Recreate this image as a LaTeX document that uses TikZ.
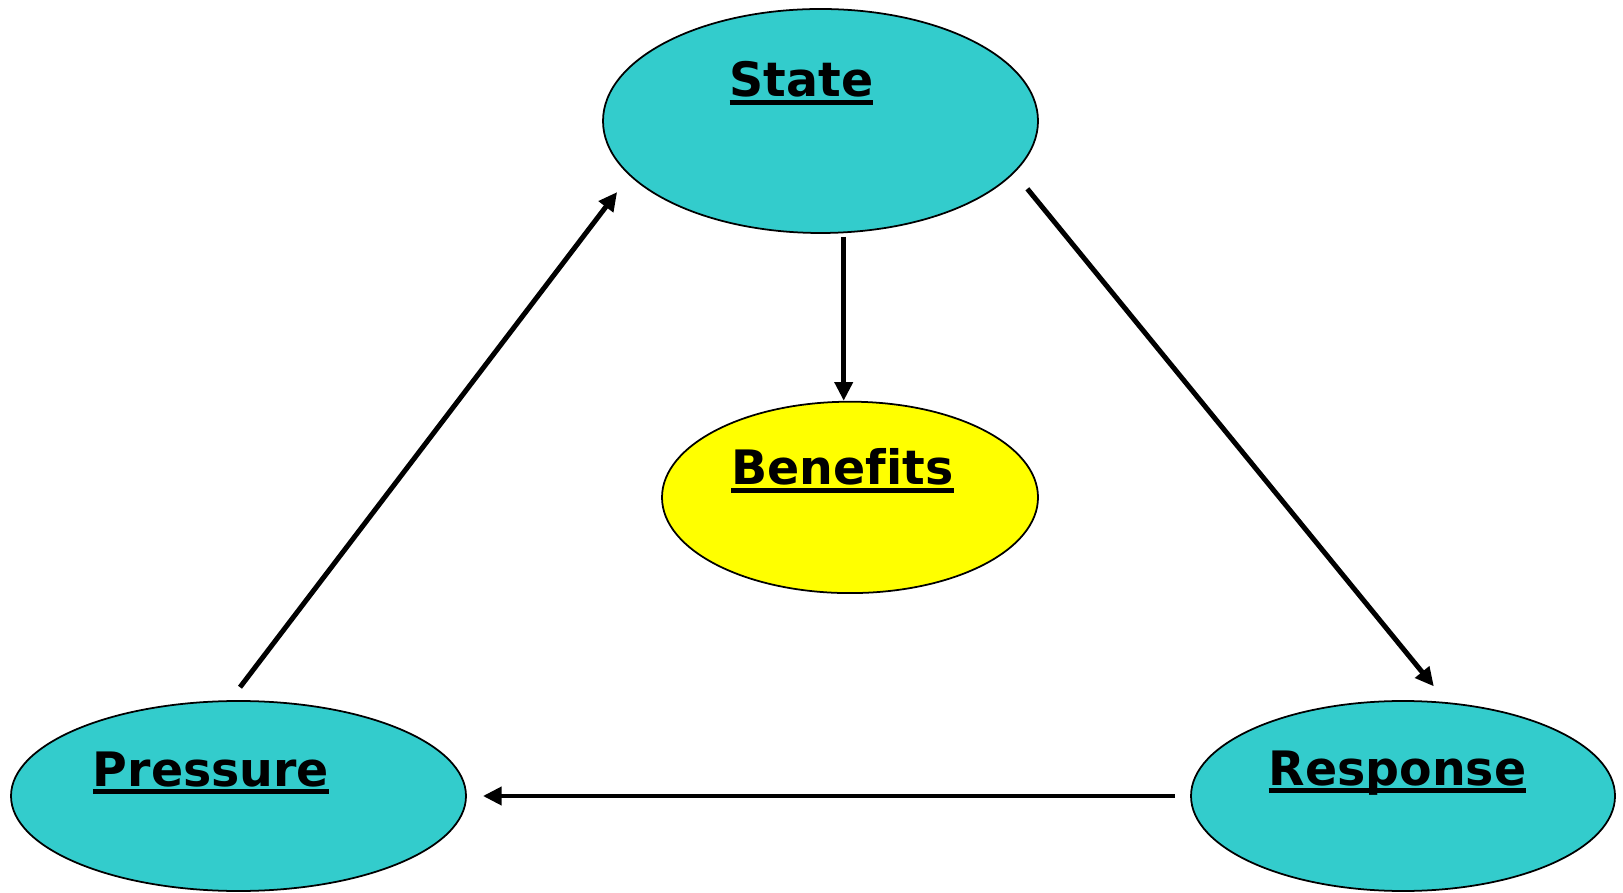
\documentclass[tikz,border=0pt]{standalone}
\usepackage{fontspec}
\setmainfont[Ligatures=NoCommon]{DejaVu Sans}
\usepackage{tikz}
\usetikzlibrary{arrows.meta,positioning,shapes.geometric,calc}
\definecolor{tealfill}{HTML}{33CCCC}
\definecolor{yellowfill}{HTML}{FFFF00}
\newcommand{\undl}[1]{\setbox0=\hbox{#1}\rlap{\rule[-0.168em]{\wd0}{0.105em}}\box0}

\begin{document}
\begin{tikzpicture}[bubble/.style={ellipse, draw, line width=0.5pt, fill=tealfill, inner sep=0pt},
    lbl/.style={anchor=base, inner sep=0pt, font=\fontsize{13.5}{16}\selectfont\bfseries},
    arr/.style={line width=1.42pt, -{Triangle[length=5.3pt,width=5pt]}}]
      \useasboundingbox (0, 0) rectangle (16.23, 8.92);

      \node[bubble, minimum width=4.35cm, minimum height=2.24cm] (state) at (8.205, 7.71) {};
      \node[bubble, fill=yellowfill, minimum width=3.76cm, minimum height=1.914cm] (benefits) at (8.50, 3.946) {};
      \node[bubble, minimum width=4.55cm, minimum height=1.90cm] (pressure) at (2.385, 0.96) {};
      \node[bubble, minimum width=4.24cm, minimum height=1.90cm] (response) at (14.03, 0.96) {};

      \node[lbl] (statetxt) at ([shift={(-0.19, 0.24)}]state.center) {\undl{State}};
      \node[lbl] (benefitstxt) at ([shift={(-0.075, 0.124)}]benefits.center) {\undl{Benefits}};
      \node[lbl] (pressuretxt) at ([shift={(-0.275, 0.10)}]pressure.center) {\undl{Pressure}};
      \node[lbl] (responsetxt) at ([shift={(-0.055, 0.11)}]response.center) {\undl{Response}};

      \coordinate (bentip) at ([xshift=-0.063cm]benefits.north);

      \draw[arr, shorten <=0.163cm, shorten >=0.205cm] (pressure.95) -- (state.196);
      \draw[arr, shorten <=0.205cm, shorten >=0.204cm] (state.-15.5) -- (response.65);
      \draw[arr, shorten <=0.03cm] (state.south -| bentip) -- (bentip);
      \draw[arr, shorten <=0.15cm, shorten >=0.16cm] (response.west) -- (pressure.east);
    \end{tikzpicture}
\end{document}
